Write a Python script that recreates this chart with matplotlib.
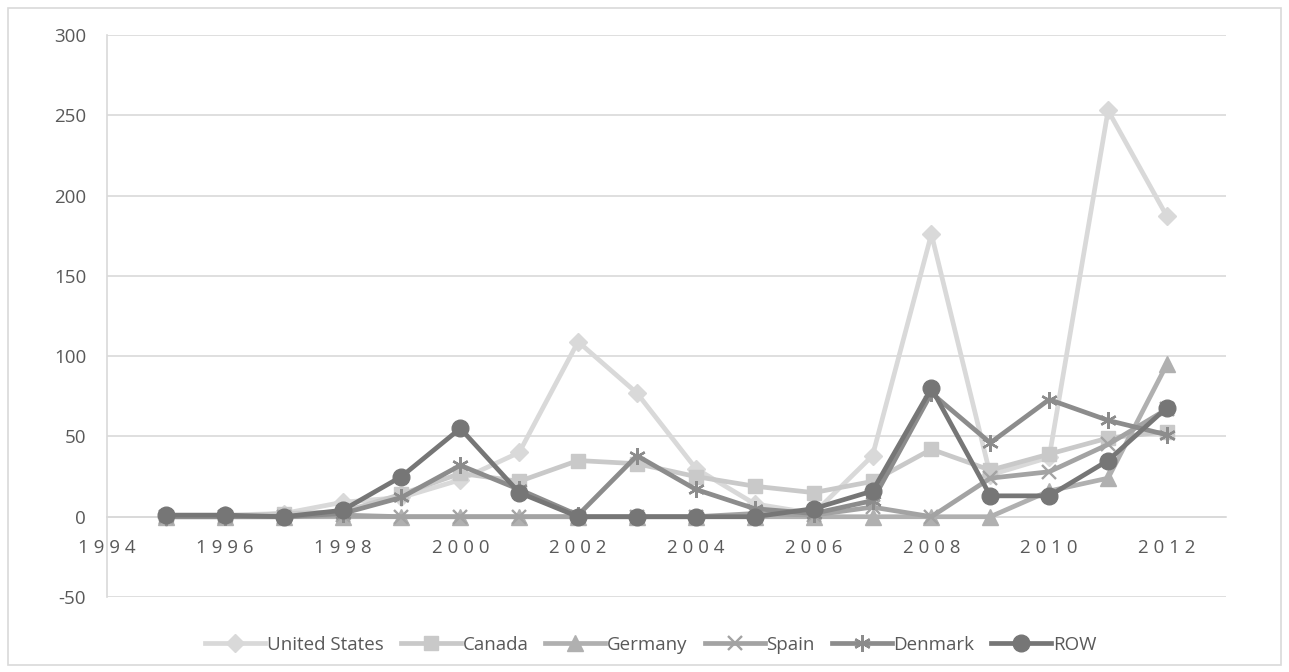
import matplotlib.pyplot as plt
from matplotlib.patches import Rectangle

plt.rcParams['font.family'] = ['Open Sans', 'DejaVu Sans']
plt.rcParams['axes.unicode_minus'] = False

years = list(range(1995, 2013))

united_states = [0, 1, 2, 9, 12, 23, 40, 109, 77, 30, 8, 2, 38, 176, 26, 37, 253, 187]
canada = [0, 0, 2, 3, 14, 27, 22, 35, 33, 25, 19, 15, 22, 42, 29, 39, 49, 53]
germany = [0, 0, 0, 0, 0, 0, 0, 0, 0, 0, 0, 0, 0, 0, 0, 16, 24, 95]
spain = [0, 0, 0, 1, 0, 0, 0, 0, 0, 0, 2, 1, 6, 0, 24, 28, 45, 67]
denmark = [0, 0, 0, 2, 12, 32, 17, 1, 38, 17, 5, 2, 10, 77, 46, 73, 60, 51]
row = [1, 1, 0, 4, 25, 55, 15, 0, 0, 0, 0, 5, 16, 80, 13, 13, 35, 68]

series = [
    ("United States", united_states, "#d9d9d9", "D", 9.5),
    ("Canada", canada, "#c9c9c9", "s", 10.5),
    ("Germany", germany, "#b0b0b0", "^", 11),
    ("Spain", spain, "#a3a3a3", "x", 10),
    ("Denmark", denmark, "#8c8c8c", "*", 12),
    ("ROW", row, "#767676", "o", 12),
]

x_ticks = list(range(1994, 2013, 2))
y_ticks = list(range(-50, 301, 50))

fig = plt.figure(figsize=(12.89, 6.72), dpi=100)
ax = fig.add_axes([0.083, 0.1116, 0.868, 0.8363])

for name, vals, col, mk, ms in series:
    if mk == "*":
        # asterisk-like marker built from crossing ticks
        ax.plot(years, vals, color=col, lw=3.4, marker=(6, 2, 0), ms=ms,
                mew=1.7, mec=col, label=name, zorder=3)
    elif mk == "x":
        ax.plot(years, vals, color=col, lw=3.4, marker="x", ms=ms,
                mew=1.7, mec=col, label=name, zorder=3)
    else:
        ax.plot(years, vals, color=col, lw=3.4, marker=mk, ms=ms,
                mec=col, mfc=col, label=name, zorder=3)

ax.set_xlim(1994, 2013)
ax.set_ylim(-50, 300)
ax.set_yticks(y_ticks)
ax.set_xticks(x_ticks)
ax.set_xticklabels([" ".join(str(y)) for y in x_ticks])
ax.grid(axis="y", color="#d9d9d9", lw=1.2, zorder=0)

ax.spines["bottom"].set_position(("data", 0))
for side in ["top", "right"]:
    ax.spines[side].set_visible(False)
ax.spines["bottom"].set_color("#d9d9d9")
ax.spines["left"].set_color("#d9d9d9")
ax.spines["bottom"].set_linewidth(1.2)
ax.spines["left"].set_linewidth(1.2)
ax.tick_params(length=0, labelsize=13.5, labelcolor="#595959")
ax.tick_params(axis="y", pad=15)
ax.tick_params(axis="x", pad=16)

fig.legend(loc="lower center", bbox_to_anchor=(0.505, 0.002), ncol=6,
           frameon=False, fontsize=13.5, handlelength=3.2,
           columnspacing=0.9, handletextpad=0.1, labelcolor="#595959")

fig.patches.append(Rectangle((0.006, 0.01), 0.988, 0.978, transform=fig.transFigure,
                             fill=False, edgecolor="#d9d9d9", lw=1.2))

fig.savefig("out.png", dpi=100)
